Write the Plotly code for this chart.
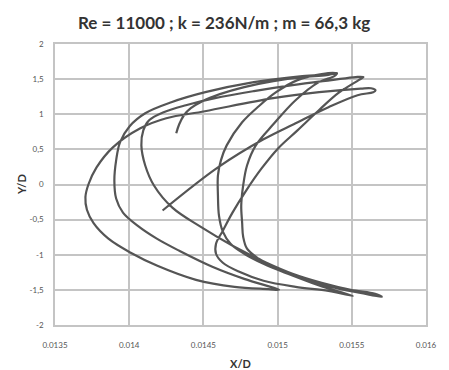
import plotly.graph_objects as go

# Trajectory, stroke by stroke (X/D, Y/D)
s1_x = [0.014225, 0.014598, 0.014905, 0.015121, 0.015343, 0.015539, 0.015644, 0.01566, 0.01563, 0.01556]
s1_y = [-0.37, 0.243, 0.643, 0.871, 1.10, 1.271, 1.314, 1.34, 1.37, 1.365]

s2_x = [0.01528, 0.01497, 0.01451, 0.01425, 0.014075, 0.01389, 0.01378, 0.013725, 0.013705, 0.013715, 0.01376,
        0.01386, 0.01401, 0.01419, 0.01445, 0.01471, 0.01494, 0.01501]
s2_y = [1.314, 1.229, 1.043, 0.943, 0.80, 0.529, 0.243, 0.0, -0.18, -0.36, -0.55,
        -0.771, -0.971, -1.157, -1.357, -1.457, -1.49, -1.50]

s3_x = [0.01498, 0.014775, 0.01456, 0.014337, 0.014186, 0.014056, 0.013958, 0.013912, 0.0139, 0.013912,
        0.013938, 0.014003, 0.014108, 0.014284, 0.014513, 0.01484, 0.015167, 0.015363, 0.0154]
s3_y = [-1.475, -1.343, -1.171, -0.943, -0.771, -0.586, -0.40, -0.20, 0.057, 0.343,
        0.60, 0.829, 1.014, 1.171, 1.314, 1.457, 1.543, 1.571, 1.586]

s4_x = [0.015382, 0.015278, 0.015121, 0.014971, 0.014853, 0.014794, 0.014768, 0.014755, 0.014761, 0.014768,
        0.014794, 0.014873, 0.014971, 0.015167, 0.015363, 0.015559, 0.015703]
s4_y = [1.543, 1.457, 1.20, 0.857, 0.557, 0.271, -0.014, -0.30, -0.543, -0.743,
        -0.914, -1.057, -1.171, -1.329, -1.457, -1.543, -1.60]

s5_x = [0.015657, 0.015493, 0.015297, 0.015101, 0.014925, 0.014709, 0.01448, 0.014291, 0.014167, 0.014108,
        0.014082, 0.014095, 0.014134, 0.014232, 0.014382, 0.014578, 0.01484, 0.015101, 0.015363, 0.015526, 0.015578]
s5_y = [-1.557, -1.50, -1.40, -1.271, -1.114, -0.886, -0.60, -0.329, -0.014, 0.271,
        0.557, 0.771, 0.914, 1.029, 1.129, 1.229, 1.329, 1.414, 1.486, 1.529, 1.529]

s6_x = [0.015546, 0.015408, 0.015278, 0.015134, 0.015003, 0.014892, 0.014788, 0.014696, 0.014631, 0.014585,
        0.014585, 0.014631, 0.014742, 0.014905, 0.015121, 0.015343, 0.015507]
s6_y = [1.486, 1.30, 1.057, 0.771, 0.514, 0.229, -0.086, -0.40, -0.657, -0.843,
        -0.986, -1.114, -1.243, -1.371, -1.457, -1.514, -1.586]

s7_x = [0.015395, 0.015232, 0.015069, 0.014905, 0.014775, 0.014683, 0.014631, 0.014605, 0.014598, 0.014598,
        0.014618, 0.014657, 0.014761, 0.014873, 0.01499, 0.015134, 0.015297, 0.015389, 0.01533, 0.015167,
        0.014971, 0.014775, 0.014611, 0.014493, 0.014415, 0.014369, 0.014337, 0.014317]
s7_y = [-1.514, -1.40, -1.271, -1.129, -0.986, -0.843, -0.671, -0.443, -0.157, 0.129,
        0.343, 0.557, 0.886, 1.114, 1.314, 1.486, 1.571, 1.586, 1.557, 1.529,
        1.471, 1.386, 1.286, 1.186, 1.086, 0.986, 0.857, 0.729]

x_ticks = [0.0135, 0.014, 0.0145, 0.015, 0.0155, 0.016]
x_tick_text = ["0.0135", "0.014", "0.0145", "0.015", "0.0155", "0.016"]
y_ticks = [-2, -1.5, -1, -0.5, 0, 0.5, 1, 1.5, 2]
y_tick_text = ["-2", "-1,5", "-1", "-0,5", "0", "0,5", "1", "1,5", "2"]

title_text = "Re = 11000 ; k = 236N/m ; m = 66,3 kg"

xs = s1_x + s2_x + s3_x + s4_x + s5_x + s6_x + s7_x
ys = s1_y + s2_y + s3_y + s4_y + s5_y + s6_y + s7_y

fig = go.Figure()
fig.add_trace(go.Scatter(x=xs, y=ys, mode="lines",
                         line=dict(color="#555555", width=2.2, shape="spline", smoothing=1.0),
                         showlegend=False, hoverinfo="skip"))

grid = "#c4c4c4"
fig.update_layout(
    width=449, height=370,
    margin=dict(l=55, r=12, t=44, b=45),
    paper_bgcolor="white", plot_bgcolor="white",
    font=dict(family="Lato, Liberation Sans, sans-serif", color="#444"),
    xaxis=dict(range=[0.0135, 0.016], tickvals=x_ticks, ticktext=x_tick_text,
               showgrid=True, gridcolor=grid, gridwidth=1.5, zeroline=False,
               showline=True, linecolor=grid, linewidth=1.5, mirror=True,
               ticks="", ticklabelstandoff=12, tickfont=dict(size=8, color="#555")),
    yaxis=dict(range=[-2, 2], tickvals=y_ticks, ticktext=y_tick_text,
               showgrid=True, gridcolor=grid, gridwidth=1.5, zeroline=False,
               showline=True, linecolor=grid, linewidth=1.5, mirror=True,
               ticks="", ticklabelstandoff=8, tickfont=dict(size=8, color="#555")),
    annotations=[
        dict(text="<b>" + title_text + "</b>", xref="paper", yref="paper", x=0.456, y=1.0,
             yshift=22, yanchor="middle", showarrow=False, font=dict(size=17, color="#333")),
        dict(text="<b>X/D</b>", xref="paper", yref="paper", x=0.5, y=0, yshift=-38,
             yanchor="middle", showarrow=False, font=dict(size=11, color="#333")),
        dict(text="<b>Y/D</b>", xref="paper", yref="paper", x=0, y=0.5, xshift=-42,
             textangle=-90, showarrow=False, font=dict(size=11, color="#333")),
    ],
)

fig.write_html("out.html")
